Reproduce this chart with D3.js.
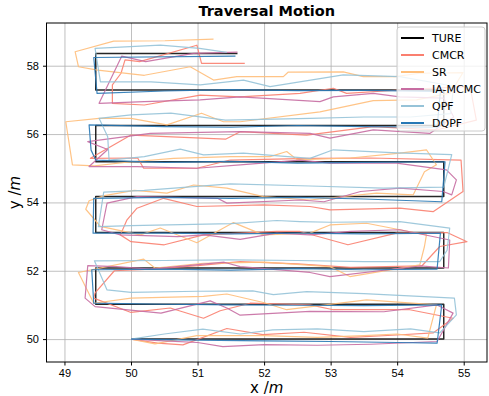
<!DOCTYPE html>
<html>
<head>
<meta charset="utf-8">
<script src="https://cdn.jsdelivr.net/npm/d3@7"></script>
<style>
  body { margin: 0; background: #fff; }
  svg { font-family: "DejaVu Sans", sans-serif; }
  .grid line { stroke: #b0b0b0; stroke-width: 0.8; }
  .grid path { display: none; }
  .axis text { font-size: 11px; fill: #000; }
  .axis path, .axis line { stroke: #000; }
</style>
</head>
<body>
<div id="chart"></div>
<script>
// trajectories, [x, y] in metres
const ture = [[50,50],[54.7,50],[54.7,51.02],[49.47,51.02],[49.47,52.08],[54.7,52.08],[54.7,53.12],[49.47,53.12],
  [49.47,54.17],[54.7,54.17],[54.7,55.19],[49.47,55.19],[49.47,56.25],[54.7,56.25],[54.7,57.29],[49.47,57.29],
  [49.47,58.36],[51.6,58.36]];

const cmcr = [[50,50],[50.4,49.88],[50.78,49.83],[51.44,50.31],[51.98,50.13],[52.6,50.2],[53.3,50.05],[54.0,50.12],
  [54.54,50.18],[54.84,50.61],[54.19,50.86],[53.04,50.86],[52.69,51.0],[51.79,51.05],[51.34,50.83],[51.09,50.61],
  [50.59,50.91],[50.0,50.78],[49.44,51.2],[49.46,51.35],[49.75,52.0],[50.3,52.05],[51.0,52.15],[51.64,52.27],
  [52.5,52.2],[53.3,52.1],[54.37,52.14],[54.64,52.71],[55.05,52.85],[54.75,53.12],[53.99,53.1],[53.26,52.76],
  [52.54,53.15],[52.19,53.15],[51.09,53.05],[50.5,52.76],[50.0,52.85],[49.84,53.05],[49.94,53.49],[50.09,53.83],
  [50.49,54.12],[50.99,53.88],[51.99,53.93],[52.69,53.88],[52.99,53.78],[54.04,53.83],[54.54,53.73],[54.99,54.32],
  [54.96,55.24],[53.6,55.3],[52.69,55.29],[51.49,55.24],[50.99,55.0],[50.19,55.0],[50.1,55.3],[49.39,55.29],
  [50.0,55.97],[51.42,55.85],[51.64,56.07],[52.64,55.97],[53.64,56.22],[54.59,56.12],[55.19,56.41],[55.11,57.24],
  [54.99,57.39],[54.04,57.29],[53.24,57.19],[53.04,57.34],[52.54,57.19],[51.64,57.09],[51.04,57.14],[50.2,56.85],
  [49.72,56.9],[49.72,57.44],[49.85,57.78],[49.91,58.17],[50.13,58.12],[50.99,58.6],[51.06,58.07],[51.71,58.07]];

const sr = [[50,50],[50.36,49.86],[50.99,50.1],[52,50.1],[52.8,50.05],[53.5,50.1],[54.0,50.15],[54.46,50.03],
  [54.59,51.0],[53.54,51.15],[52.34,50.86],[51.99,51.07],[51.44,51.32],[51.09,51.25],[50.0,51.2],[49.44,51.05],
  [49.21,51.95],[50.19,52.34],[50.36,52.08],[51.09,52.22],[51.64,52.24],[52.0,52.25],[52.99,52.12],[53.29,51.83],
  [54.34,52.17],[54.41,52.71],[54.44,53.05],[54.04,53.2],[53.54,53.39],[52.99,53.34],[52.69,53.1],[51.99,53.05],
  [51.54,53.41],[50.99,52.82],[50.44,53.25],[50.14,53.05],[49.54,53.3],[49.32,53.8],[49.37,54.05],[49.6,54.2],
  [50.05,54.35],[50.54,54.27],[50.94,54.51],[51.44,54.42],[51.99,54.17],[52.69,54.07],[53.69,54.27],[54.24,54.22],
  [54.41,54.9],[54.59,55.1],[54.44,55.54],[54.04,55.44],[53.3,55.3],[52.69,55.26],[52.49,55.26],[52.34,55.49],
  [52.09,55.34],[51.49,55.34],[50.64,55.29],[50.0,55.19],[49.45,55.07],[49.12,55.1],[49.02,56.36],[49.52,56.46],
  [50.0,56.46],[50.54,56.27],[51.06,56.61],[51.39,56.36],[51.64,56.36],[52.84,56.65],[53.64,56.98],[54.29,57.0],
  [54.8,57.2],[54.99,57.8],[54.34,57.78],[53.97,57.68],[53.49,57.68],[53.19,57.82],[52.36,57.81],[52.29,57.68],
  [51.59,57.68],[51.24,57.58],[50.89,57.97],[50.2,57.72],[49.5,57.87],[49.21,57.97],[49.16,58.41],[49.74,58.72],
  [50.51,58.73],[51.24,58.78]];

const iamcmc = [[50,50],[50.5,49.95],[51,49.9],[51.38,49.78],[52,49.84],[52.8,49.82],[53.6,49.85],[54.6,49.93],
  [54.84,50.76],[54.6,51.0],[53.8,50.8],[52.69,50.81],[51.64,50.7],[51.44,50.91],[51.19,51.12],[50.45,50.76],
  [49.46,50.95],[49.31,51.2],[49.35,52.15],[49.78,52.12],[50.3,52.05],[51.4,52.25],[51.64,52.12],[52.69,51.95],
  [52.99,51.83],[54.34,52.14],[54.77,52.08],[54.79,52.9],[54.04,53.2],[53.3,53.15],[52.69,53.05],[52.19,53.1],
  [51.64,52.92],[51.1,53.05],[50.7,53.0],[49.84,53.05],[49.56,53.2],[49.64,53.98],[50.09,54.17],[51.3,54.12],
  [51.44,53.98],[52.54,54.07],[52.9,54.02],[53.45,54.32],[54.04,54.42],[54.69,54.32],[54.82,54.22],[54.89,54.66],
  [54.74,54.95],[53.99,55.15],[52.99,55.15],[52.54,55.24],[51.64,55.1],[50.99,55.0],[50.09,55.05],[49.37,55.05],
  [49.65,55.55],[49.35,55.78],[50.29,56.02],[51.64,56.07],[52.69,56.02],[52.99,55.88],[53.64,56.12],[54.49,56.02],
  [54.85,56.5],[54.7,57.05],[54.04,57.09],[53.64,57.19],[53.04,57.09],[52.84,56.95],[51.64,57.09],[51.04,57.0],
  [50.2,56.95],[49.52,56.9],[49.86,58.28],[50.22,58.12],[50.94,58.36],[51.6,58.4]];

const qpf = [[50,50],[50.5,50.15],[51.08,50.29],[51.64,50.15],[52.13,50.27],[52.8,50.3],[53.5,50.22],[54.2,50.3],
  [54.64,50.18],[54.89,50.71],[54.86,51.2],[53.5,51.33],[52.64,51.39],[52.14,51.3],[51.83,51.41],[51.0,51.4],
  [50.0,51.37],[49.64,51.44],[49.45,52.29],[50.5,52.3],[51.5,52.32],[52.5,52.3],[53.5,52.27],[54.64,52.27],
  [54.75,52.6],[54.79,53.25],[54.04,53.44],[53.0,53.42],[52.54,53.44],[52.19,53.47],[51.5,53.38],[50.0,53.32],
  [49.51,53.29],[49.59,54.3],[50.2,54.35],[51.49,54.54],[52.69,54.48],[53.79,54.42],[54.7,54.45],[54.82,55.4],
  [54.0,55.45],[53.04,55.54],[52.69,55.29],[51.69,55.44],[51.09,55.39],[50.74,55.56],[50.2,55.34],[49.67,55.24],
  [49.65,55.92],[49.52,56.46],[50.0,56.56],[50.6,56.61],[51.42,56.41],[52.69,56.46],[53.5,56.5],[54.2,56.5],
  [54.8,56.6],[54.85,57.4],[54.04,57.68],[53.19,57.73],[52.09,57.39],[51.69,57.58],[51.04,57.44],[50.3,57.53],
  [49.54,57.53],[49.46,58.51],[50.44,58.6],[51.03,58.51],[51.44,58.39]];

const dqpf = [[50,50],[51,49.97],[52,49.95],[53,49.93],[54,49.9],[54.6,49.88],[54.67,51.0],[53.5,50.98],
  [52.5,50.99],[51.5,51.0],[50.5,51.02],[49.44,51.05],[49.41,52.03],[50.5,52.05],[51.5,52.02],[52.5,52.06],
  [53.5,52.03],[54.6,52.05],[54.65,53.1],[53.5,53.08],[52.5,53.1],[51.5,53.08],[50.5,53.1],[49.43,53.1],
  [49.44,54.12],[50.5,54.15],[51.5,54.12],[52.5,54.15],[53.5,54.1],[54.67,54.02],[54.72,55.19],[53.5,55.17],
  [52.5,55.15],[51.5,55.2],[50.5,55.17],[49.47,55.24],[49.4,55.53],[49.37,56.27],[50.5,56.22],[51.5,56.2],
  [52.5,56.25],[53.5,56.22],[54.6,56.2],[54.65,57.25],[53.5,57.28],[52.5,57.27],[51.5,57.3],[50.5,57.26],
  [49.49,57.19],[49.44,58.24],[51.57,58.28]];

const seriesNames = ['TURE', 'CMCR', 'SR', 'IA-MCMC', 'QPF', 'DQPF'];
const seriesData = [ture, cmcr, sr, iamcmc, qpf, dqpf];
const seriesColors = ['#000000', '#fa7f6f', '#ffbe7a', '#c76da2', '#96c3d8', '#2878b5'];

const xTicks = [49, 50, 51, 52, 53, 54, 55];
const yTicks = [50, 52, 54, 56, 58];

const W = 489, H = 396;
const margin = { top: 23, right: 2, bottom: 34, left: 46.5 };
const width = W - margin.left - margin.right;
const height = H - margin.top - margin.bottom;

const xScale = d3.scaleLinear().domain([48.73, 55.35]).range([0, width]);
const yScale = d3.scaleLinear().domain([49.33, 59.25]).range([height, 0]);

const svg = d3.select('#chart').append('svg')
  .attr('width', W).attr('height', H)
  .append('g')
  .attr('transform', 'translate(' + margin.left + ',' + margin.top + ')');

// grid
svg.append('g').attr('class', 'grid')
  .attr('transform', 'translate(0,' + height + ')')
  .call(d3.axisBottom(xScale).tickValues(xTicks).tickSize(-height).tickFormat(''));
svg.append('g').attr('class', 'grid')
  .call(d3.axisLeft(yScale).tickValues(yTicks).tickSize(-width).tickFormat(''));

const clip = svg.append('clipPath').attr('id', 'clip')
  .append('rect').attr('width', width).attr('height', height);

const line = d3.line()
  .x(d => xScale(d[0]))
  .y(d => yScale(d[1]));

const plot = svg.append('g').attr('clip-path', 'url(#clip)');
seriesData.forEach((pts, i) => {
  plot.append('path')
    .attr('class', 'trajectory')
    .attr('d', line(pts))
    .attr('fill', 'none')
    .attr('stroke', seriesColors[i])
    .attr('stroke-width', i === 0 ? 1.5 : 1.2)
    .attr('stroke-opacity', i === 0 ? 0.85 : 0.9)
    .attr('stroke-linejoin', 'round');
});

// axes
const xAxis = svg.append('g').attr('class', 'axis')
  .attr('transform', 'translate(0,' + height + ')')
  .call(d3.axisBottom(xScale).tickValues(xTicks).tickSize(3.5).tickPadding(4).tickFormat(d3.format('d')));
const yAxis = svg.append('g').attr('class', 'axis')
  .call(d3.axisLeft(yScale).tickValues(yTicks).tickSize(3.5).tickPadding(4).tickFormat(d3.format('d')));
xAxis.select('.domain').remove();
yAxis.select('.domain').remove();

svg.append('rect')
  .attr('width', width).attr('height', height)
  .attr('fill', 'none').attr('stroke', '#000').attr('stroke-width', 1);

// labels
svg.append('text')
  .attr('x', width / 2).attr('y', -7)
  .attr('text-anchor', 'middle')
  .style('font-size', '14.5px').style('font-weight', 'bold')
  .text('Traversal Motion');

const xl = svg.append('text')
  .attr('x', width / 2).attr('y', height + 31)
  .attr('text-anchor', 'middle')
  .style('font-size', '15px');
xl.append('tspan').text('x /');
xl.append('tspan').style('font-style', 'italic').text('m');

const yl = svg.append('text')
  .attr('transform', 'translate(' + (-27) + ',' + (height / 2) + ') rotate(-90)')
  .attr('text-anchor', 'middle')
  .style('font-size', '15px');
yl.append('tspan').text('y /');
yl.append('tspan').style('font-style', 'italic').text('m');

// legend
const lg = svg.append('g').attr('transform', 'translate(' + (width - 90) + ',4)');
lg.append('rect')
  .attr('width', 88).attr('height', 104).attr('rx', 3)
  .attr('fill', '#fff').attr('fill-opacity', 0.8)
  .attr('stroke', '#cccccc').attr('stroke-width', 1);
seriesNames.forEach((name, i) => {
  const yy = 11 + i * 17;
  lg.append('line')
    .attr('x1', 4).attr('x2', 27).attr('y1', yy).attr('y2', yy)
    .attr('stroke', seriesColors[i]).attr('stroke-width', 2);
  lg.append('text')
    .attr('x', 35).attr('y', yy + 4)
    .style('font-size', '11px')
    .text(name);
});
</script>
</body>
</html>
